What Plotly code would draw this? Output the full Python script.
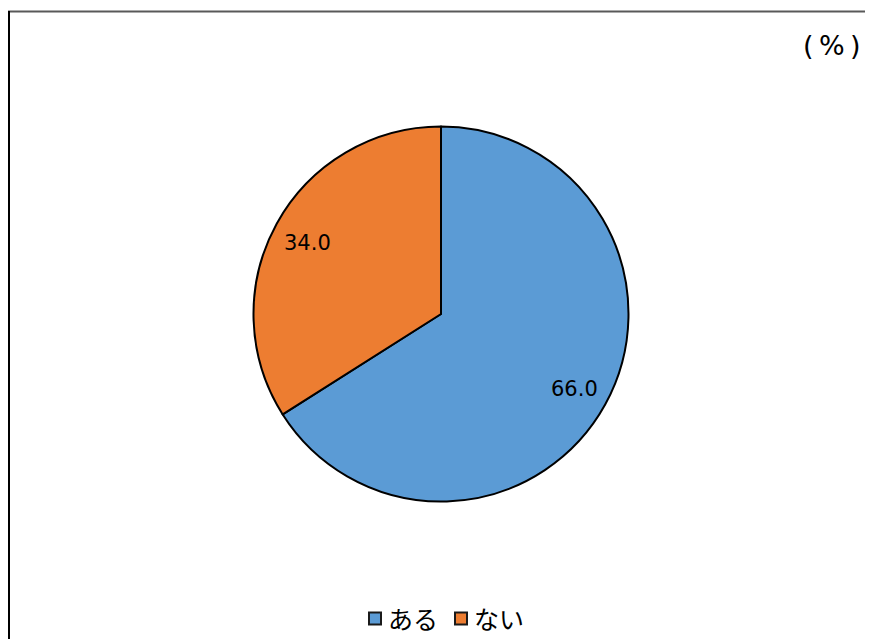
import math
import plotly.graph_objects as go

labels = ["ある", "ない"]
values = [66.0, 34.0]
colors = ["#5B9BD5", "#ED7D31"]
text_labels = ["66.0", "34.0"]

# page has an 8px body margin, so the figure is sized to fit the window
OFF = 8
W, H = 873 - OFF, 639 - OFF
cx, cy, r = 441 - OFF, 314 - OFF, 187.5


def px(x):
    return x / W


def py(y):
    return 1 - y / H


fig = go.Figure(go.Pie(
    labels=labels,
    values=values,
    textinfo="none",
    marker=dict(colors=colors, line=dict(color="#000000", width=2)),
    sort=False,
    direction="clockwise",
    rotation=0,
    domain=dict(x=[px(cx - r), px(cx + r)], y=[py(cy + r), py(cy - r)]),
    hoverinfo="label+value",
    showlegend=False,
))

annotations = []
# data labels placed near the outer part of each slice (computed from values)
total = sum(values)
cum = 0.0
for v, t in zip(values, text_labels):
    mid = (cum + v / 2) / total * 2 * math.pi
    cum += v
    R = 0.81 * r
    annotations.append(dict(
        text=t, x=px(cx + R * math.sin(mid)), y=py(cy - R * math.cos(mid) + 2),
        xref="paper", yref="paper", xanchor="center", yanchor="middle",
        showarrow=False, font=dict(family="DejaVu Sans", size=21, color="#000000")))

annotations.append(dict(
    text="(\u2009%\u2009)", x=px(832 - OFF), y=py(45 - OFF), xref="paper", yref="paper",
    xanchor="center", yanchor="middle", showarrow=False,
    font=dict(family="DejaVu Sans", size=27, color="#000000")))

# legend drawn with squares + text
shapes = []
leg_sq_x = [369, 455]
leg_y = 618.5
for i, (lab, col) in enumerate(zip(labels, colors)):
    x0 = leg_sq_x[i] - OFF
    shapes.append(dict(type="rect", xref="paper", yref="paper",
                       x0=px(x0), x1=px(x0 + 12), y0=py(leg_y - OFF - 6), y1=py(leg_y - OFF + 6),
                       fillcolor=col, line=dict(color="#1a1a1a", width=2)))
    annotations.append(dict(
        text=lab, x=px(x0 + 17), y=py(leg_y - OFF - 1), xref="paper", yref="paper",
        xanchor="left", yanchor="middle", showarrow=False,
        font=dict(family="Noto Sans CJK JP", size=25, color="#000000")))

shapes.append(dict(type="line", xref="paper", yref="paper",
                   x0=px(0), x1=1.01, y0=py(11.5 - OFF), y1=py(11.5 - OFF),
                   line=dict(color="#595959", width=2)))
shapes.append(dict(type="line", xref="paper", yref="paper",
                   x0=px(1), x1=px(1), y0=-0.01, y1=py(11 - OFF),
                   line=dict(color="#000000", width=2)))

fig.update_layout(
    width=W, height=H,
    margin=dict(l=0, r=0, t=0, b=0),
    paper_bgcolor="white",
    plot_bgcolor="white",
    showlegend=False,
    shapes=shapes,
    annotations=annotations,
)

fig.write_html("out.html")
